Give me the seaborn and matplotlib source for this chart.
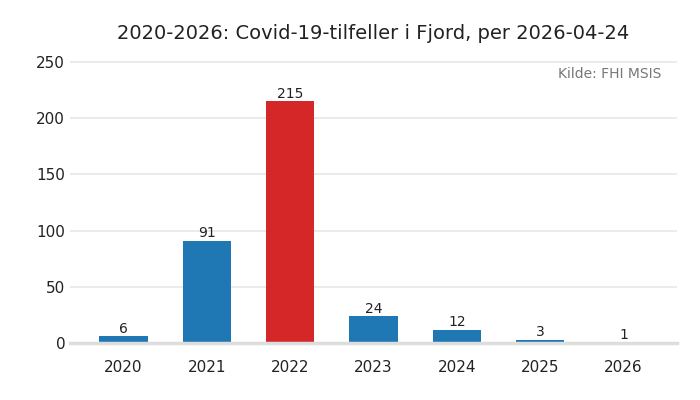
import numpy as np
import pandas as pd
import seaborn as sns
import matplotlib.pyplot as plt

years = ['2020', '2021', '2022', '2023', '2024', '2025', '2026']
cases = [6, 91, 215, 24, 12, 3, 1]
highlight_year = '2022'

df = pd.DataFrame({'year': years, 'cases': cases})

sns.set_style('white')
plt.rcParams['font.family'] = ['DejaVu Sans']

blue = '#1f77b4'
red = '#d62728'
palette = {y: (red if y == highlight_year else blue) for y in years}

fig, ax = plt.subplots(figsize=(7, 4), dpi=100)
fig.subplots_adjust(left=0.1, right=0.967, top=0.86, bottom=0.1425)

sns.barplot(data=df, x='year', y='cases', hue='year', palette=palette,
            legend=False, width=0.58, saturation=1, ax=ax, zorder=2,
            linewidth=0)

for p, v in zip(ax.patches, cases):
    ax.text(p.get_x() + p.get_width() / 2, p.get_height() + 0.3, str(v),
            ha='center', va='bottom', fontsize=10, color='#222222')

ax.set_xlim(-0.64, 6.64)
ax.set_ylim(0, 255.3)
ax.set_yticks([0, 50, 100, 150, 200, 250])
ax.yaxis.grid(True, color='#e8e8e8', linewidth=1.2, zorder=0)
ax.set_axisbelow(True)
for s in ['top', 'right', 'left']:
    ax.spines[s].set_visible(False)
ax.spines['bottom'].set_color('#dddddd')
ax.spines['bottom'].set_linewidth(2.5)
ax.spines['bottom'].set_zorder(3)
ax.tick_params(axis='both', length=0, labelsize=11, colors='#222222')
ax.tick_params(axis='x', pad=12)
ax.set_xlabel('')
ax.set_ylabel('')
ax.set_title('2020-2026: Covid-19-tilfeller i Fjord, per 2026-04-24',
             fontsize=14, color='#222222', pad=12)
ax.text(0.975, 0.963, 'Kilde: FHI MSIS', transform=ax.transAxes,
        ha='right', va='top', fontsize=10, color='#777777')

plt.savefig('out.png', dpi=100)
